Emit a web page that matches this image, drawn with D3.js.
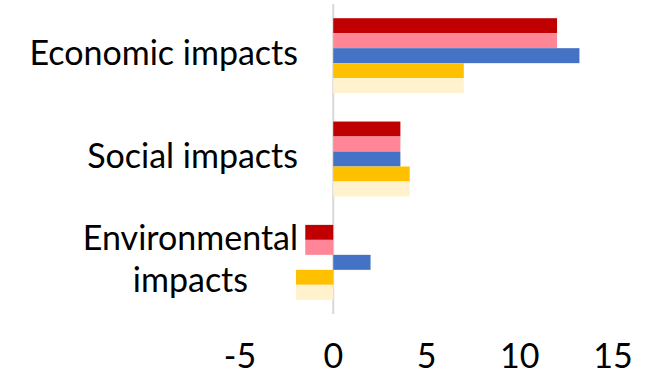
<!DOCTYPE html>
<html>
<head>
<meta charset="utf-8">
<script src="https://cdn.jsdelivr.net/npm/d3@7"></script>
<style>
  body { margin: 0; background: #fff; }
  text { font-family: Lato, "Open Sans", sans-serif; fill: #000; }
</style>
</head>
<body>
<svg id="chart" width="660" height="379"></svg>
<script>
// categories top to bottom, each label split into its wrapped lines
const categories = ['Economic impacts', 'Social impacts', 'Environmental impacts'];
const categoryLines = [['Economic impacts'], ['Social impacts'], ['Environmental', 'impacts']];

// five series, drawn top to bottom inside each group
const seriesNames = ['Series 1', 'Series 2', 'Series 3', 'Series 4', 'Series 5'];
const seriesColors = ['#C00000', '#FF8597', '#4472C4', '#FFC000', '#FFF2CC'];
const series1 = [12, 3.6, -1.5];
const series2 = [12, 3.6, -1.5];
const series3 = [13.2, 3.6, 2];
const series4 = [7, 4.1, -2];
const series5 = [7, 4.1, -2];
const seriesValues = [series1, series2, series3, series4, series5];

const xTicks = [-5, 0, 5, 10, 15];

const svg = d3.select('#chart');

const x = d3.scaleLinear().domain([-5, 15]).range([240, 613]);

const y = d3.scaleBand()
  .domain(categories)
  .range([4, 314])
  .paddingInner(0.275)
  .paddingOuter(0.1375);

const ySub = d3.scaleBand()
  .domain(seriesNames)
  .range([0, y.bandwidth()]);

// zero line
svg.append('line')
  .attr('x1', x(0)).attr('x2', x(0))
  .attr('y1', 4).attr('y2', 314)
  .attr('stroke', '#d9d9d9')
  .attr('stroke-width', 2);

// bars
const rows = [];
categories.forEach((c, i) => {
  seriesNames.forEach((s, j) => {
    rows.push({ cat: c, series: s, value: seriesValues[j][i], color: seriesColors[j] });
  });
});

svg.append('g')
  .selectAll('rect')
  .data(rows)
  .join('rect')
  .attr('x', d => x(Math.min(0, d.value)))
  .attr('width', d => Math.abs(x(d.value) - x(0)))
  .attr('y', d => y(d.cat) + ySub(d.series))
  .attr('height', ySub.bandwidth())
  .attr('fill', d => d.color);

// category labels (wrapped lines centered on the widest line)
const labelRight = 298;
const fontSize = 34;
const lineGap = 42;
categories.forEach((c, i) => {
  const lines = categoryLines[i];
  const g = svg.append('g');
  const cy = y(c) + y.bandwidth() / 2;
  const texts = g.selectAll('text')
    .data(lines)
    .join('text')
    .attr('font-size', fontSize)
    .attr('text-anchor', 'middle')
    .attr('y', (d, k) => cy + 9 + (k - (lines.length - 1) / 2) * lineGap)
    .text(d => d);
  const w = d3.max(texts.nodes(), n => n.getComputedTextLength());
  texts.attr('x', labelRight - w / 2);
});

// x axis tick labels
svg.append('g')
  .selectAll('text')
  .data(xTicks)
  .join('text')
  .attr('x', d => x(d))
  .attr('y', 368)
  .attr('font-size', fontSize)
  .attr('text-anchor', 'middle')
  .text(d => d);
</script>
</body>
</html>
